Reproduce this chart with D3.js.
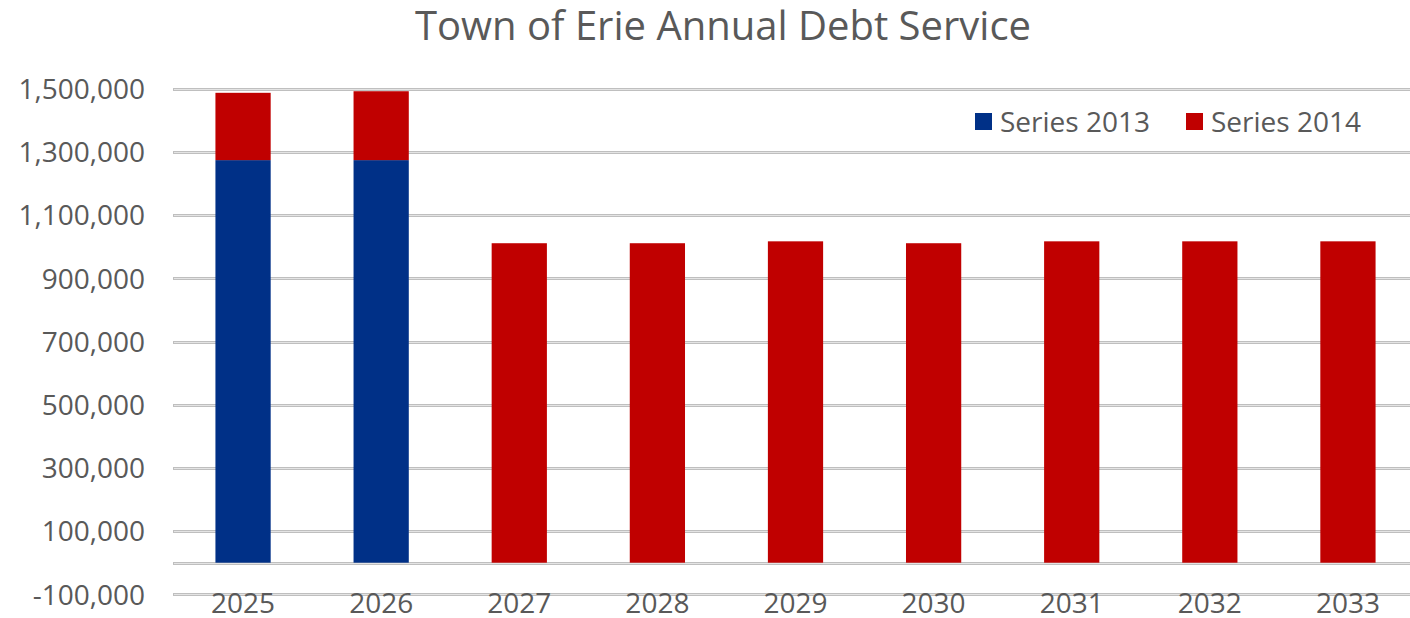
<!DOCTYPE html>
<html>
<head>
<meta charset="utf-8">
<script src="https://cdn.jsdelivr.net/npm/d3@7"></script>
<style>
  html, body { margin: 0; padding: 0; background: #fff; }
  svg { display: block; font-family: "Open Sans", "Noto Sans", sans-serif; }
</style>
</head>
<body>
<svg id="chart" width="1410" height="618"></svg>
<script>
const title = "Town of Erie Annual Debt Service";
const years = ["2025", "2026", "2027", "2028", "2029", "2030", "2031", "2032", "2033"];
const series2013 = [1274000, 1274000, 0, 0, 0, 0, 0, 0, 0];
const series2014 = [213000, 218000, 1011000, 1011000, 1017000, 1011000, 1017000, 1017000, 1017000];
const seriesNames = ["Series 2013", "Series 2014"];
const seriesColors = ["#003087", "#C00000"];
const yTicks = [-100000, 100000, 300000, 500000, 700000, 900000, 1100000, 1300000, 1500000];
const gridValues = [-100000, 0, 100000, 300000, 500000, 700000, 900000, 1100000, 1300000, 1500000];

const W = 1410, H = 618;
const svg = d3.select("#chart");
const textColor = "#595959";

const x = d3.scaleBand().domain(years).range([174, 1417]).paddingInner(0.6).paddingOuter(0.3);
const y = d3.scaleLinear().domain([-100000, 1500000]).range([594.3, 88.7]);

// title
svg.append("text")
  .attr("x", 723).attr("y", 40)
  .attr("text-anchor", "middle")
  .attr("font-size", 40)
  .attr("fill", textColor)
  .text(title);

// gridlines (double-line look)
const grid = svg.append("g");
grid.selectAll("line.outer").data(gridValues).join("line")
  .attr("class", "outer")
  .attr("x1", 173).attr("x2", W)
  .attr("y1", d => Math.round(y(d)) + 0.5).attr("y2", d => Math.round(y(d)) + 0.5)
  .attr("stroke", "#bfbfbf").attr("stroke-width", 3);
grid.selectAll("line.inner").data(gridValues).join("line")
  .attr("class", "inner")
  .attr("x1", 174).attr("x2", W)
  .attr("y1", d => Math.round(y(d)) + 0.5).attr("y2", d => Math.round(y(d)) + 0.5)
  .attr("stroke", "#e4e4e4").attr("stroke-width", 1);

// y axis
const fmt = d3.format(",");
const yAxis = d3.axisLeft(y).tickValues(yTicks).tickSize(0).tickPadding(0)
  .tickFormat(d => fmt(d).replace("\u2212", "-"));
const gy = svg.append("g").attr("transform", "translate(145,0)").call(yAxis);
gy.select(".domain").remove();
gy.selectAll("text")
  .attr("font-size", 28).attr("fill", textColor)
  .attr("font-family", "Open Sans, sans-serif")
  .attr("dy", "0.35em");

// stacked bars
const stackData = years.map((yr, i) => ({ year: yr, s2013: series2013[i], s2014: series2014[i] }));
const stack = d3.stack().keys(["s2013", "s2014"]);
const layers = stack(stackData);
svg.append("g").selectAll("g").data(layers).join("g")
  .attr("fill", (d, i) => seriesColors[i])
  .selectAll("rect").data(d => d.filter(p => p[1] - p[0] > 0)).join("rect")
  .attr("x", d => x(d.data.year))
  .attr("width", x.bandwidth())
  .attr("y", d => y(d[1]))
  .attr("height", d => y(d[0]) - y(d[1]));

// x axis labels
const xAxis = d3.axisBottom(x).tickSize(0).tickPadding(0);
const gx = svg.append("g").attr("transform", "translate(0,613)").call(xAxis);
gx.select(".domain").remove();
gx.selectAll("text")
  .attr("font-size", 28).attr("fill", textColor)
  .attr("font-family", "Open Sans, sans-serif")
  .attr("dy", 0);

// legend
const legendX = [975, 1186];
const lg = svg.append("g").selectAll("g").data(seriesNames).join("g")
  .attr("transform", (d, i) => `translate(${legendX[i]},113)`);
lg.append("rect").attr("width", 17).attr("height", 17)
  .attr("fill", (d, i) => seriesColors[i]);
lg.append("text").attr("x", 25).attr("y", 19)
  .attr("font-size", 28).attr("fill", textColor)
  .text(d => d);
</script>
</body>
</html>
